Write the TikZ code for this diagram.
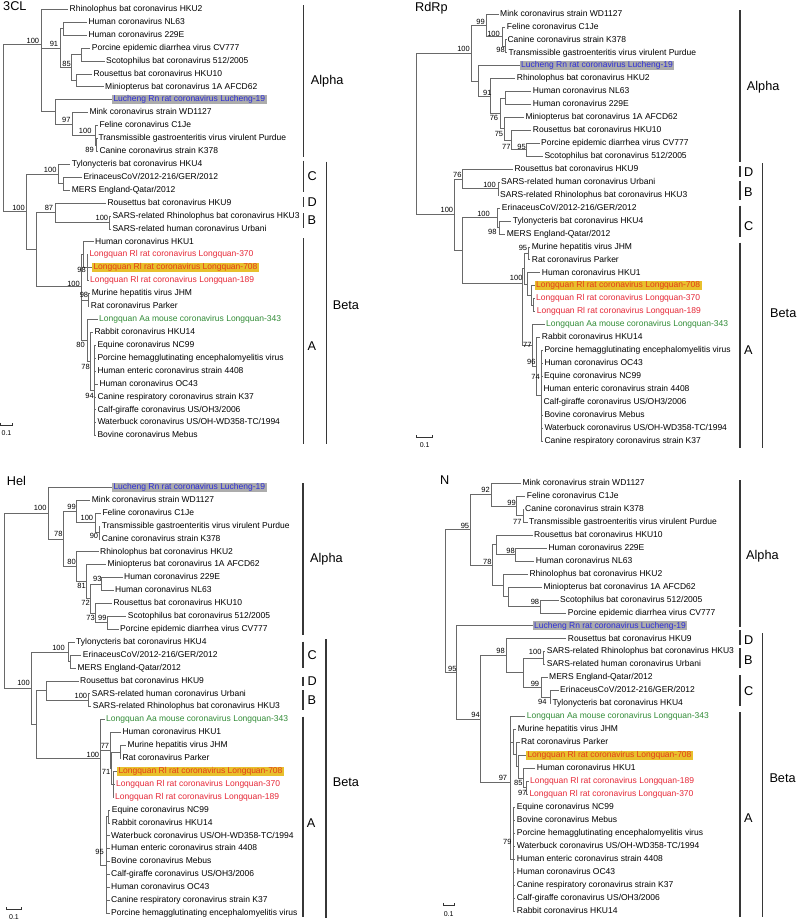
\documentclass[tikz,border=0pt]{standalone}
\usepackage{fontspec}
\setmainfont{Liberation Sans}
\usetikzlibrary{calc}
\definecolor{tbl}{RGB}{45,45,215}
\definecolor{tgr}{RGB}{50,140,55}
\definecolor{trd}{RGB}{230,40,55}
\definecolor{thl}{RGB}{232,192,45}
\definecolor{tor}{RGB}{228,60,25}
\definecolor{tgb}{RGB}{172,172,172}
\definecolor{brc}{RGB}{105,105,105}
\definecolor{barc}{RGB}{55,55,55}
\newcommand\tlf[5][]{\node[leaf,#1] (#2) at ({#3-1.5},{\treeyo+#4*\treedy}) {#5};}
\newcommand\tnd[3]{\coordinate (#1) at ({#2},{\treeyo+#3*\treedy});}
\newcommand\ted[2]{\draw[br] (#1) |- (#2);}
\newcommand\tel[2]{\draw[br] (#1) |- (#2.west);}
\newcommand\cladebar[4]{\coordinate (#1u) at (#2,#3); \coordinate (#1d) at (#2,#4); \draw[bar] (#1u) -- (#1d);}
\newcommand\mkscale[6]{\coordinate (#1l) at (#2,#4); \coordinate (#1r) at (#3,#4);
  \draw[sc] ($(#1l)+(0,-2.2)$) -- (#1l) -- (#1r) -- ($(#1r)+(0,-2.2)$);
  \node[sct] (#1t) at (#5,#6) {0.1};}
\begin{document}
\begin{tikzpicture}[x=1pt,y=-1pt,
 leaf/.style={anchor=west,inner xsep=1.5pt,inner ysep=0.6pt,font=\fontsize{8.5}{10}\selectfont,text height=6.2pt,text depth=1.8pt},
 lred/.style={text=trd}, lgrn/.style={text=tgr}, lblu/.style={text=tbl,fill=tgb}, lhl/.style={text=tor,fill=thl},
 br/.style={draw=brc,line width=0.8pt},
 bs/.style={anchor=east,inner sep=0pt,font=\fontsize{7.5}{9}\selectfont},
 bar/.style={draw=barc,line width=1.1pt},
 clab/.style={anchor=west,inner sep=0pt,font=\fontsize{12.7}{14}\selectfont},
 ttl/.style={anchor=base west,inner sep=0pt,font=\fontsize{12.7}{14}\selectfont},
 sc/.style={draw=black!80,line width=0.6pt},
 sct/.style={inner sep=0pt,font=\fontsize{7}{8}\selectfont}]
\path[fill=white,use as bounding box] (0,0) rectangle (796,921);

% ================= 3CL =================
\node[ttl] (t1) at (3,10) {3CL};
\def\treeyo{9.3}\def\treedy{12.92}
\tlf{a0}{69.5}{0}{Rhinolophus bat coronavirus HKU2}
\tlf{a1}{88.3}{1}{Human coronavirus NL63}
\tlf{a2}{88.3}{2}{Human coronavirus 229E}
\tlf{a3}{91.7}{3}{Porcine epidemic diarrhea virus CV777}
\tlf{a4}{106}{4}{Scotophilus bat coronavirus 512/2005}
\tlf{a5}{93.3}{5}{Rousettus bat coronavirus HKU10}
\tlf{a6}{105}{6}{Miniopterus bat coronavirus 1A AFCD62}
\tlf[lblu]{a7}{113.3}{7}{Lucheng Rn rat coronavirus Lucheng-19}
\tlf{a8}{89.3}{8}{Mink coronavirus strain WD1127}
\tlf{a9}{99.3}{9}{Feline coronavirus C1Je}
\tlf{a10}{98.3}{10}{Transmissible gastroenteritis virus virulent Purdue}
\tlf{a11}{99.3}{11}{Canine coronavirus strain K378}
\tlf{a12}{71.7}{12}{Tylonycteris bat coronavirus HKU4}
\tlf{a13}{83.3}{13}{ErinaceusCoV/2012-216/GER/2012}
\tlf{a14}{71.7}{14}{MERS England-Qatar/2012}
\tlf{a15}{107.3}{15}{Rousettus bat coronavirus HKU9}
\tlf{a16}{112.3}{16}{SARS-related Rhinolophus bat coronavirus HKU3}
\tlf{a17}{112.3}{17}{SARS-related human coronavirus Urbani}
\tlf{a18}{95}{18}{Human coronavirus HKU1}
\tlf[lred]{a19}{89.3}{19}{Longquan Rl rat coronavirus Longquan-370}
\tlf[lhl]{a20}{93.3}{20}{Longquan Rl rat coronavirus Longquan-708}
\tlf[lred]{a21}{90}{21}{Longquan Rl rat coronavirus Longquan-189}
\tlf{a22}{91.7}{22}{Murine hepatitis virus JHM}
\tlf{a23}{90.7}{23}{Rat coronavirus Parker}
\tlf[lgrn]{a24}{99}{24}{Longquan Aa mouse coronavirus Longquan-343}
\tlf{a25}{94.3}{25}{Rabbit coronavirus HKU14}
\tlf{a26}{97.3}{26}{Equine coronavirus NC99}
\tlf{a27}{97.3}{27}{Porcine hemagglutinating encephalomyelitis virus}
\tlf{a28}{97.3}{28}{Human enteric coronavirus strain 4408}
\tlf{a29}{99.3}{29}{Human coronavirus OC43}
\tlf{a30}{97.3}{30}{Canine respiratory coronavirus strain K37}
\tlf{a31}{97.3}{31}{Calf-giraffe coronavirus US/OH3/2006}
\tlf{a32}{97.3}{32}{Waterbuck coronavirus US/OH-WD358-TC/1994}
\tlf{a33}{97.3}{33}{Bovine coronavirus Mebus}
\tnd{anl}{63.3}{1.5} \tel{anl}{a1}\tel{anl}{a2}
\tnd{acv}{81.7}{3.5} \tel{acv}{a3}\tel{acv}{a4}
\tnd{ahk}{76}{5.5} \tel{ahk}{a5}\tel{ahk}{a6}
\tnd{a85}{71.7}{4.5} \ted{a85}{acv}\ted{a85}{ahk}
\tnd{a91}{60}{3} \ted{a91}{anl}\ted{a91}{a85}
\tnd{a89}{96.7}{10.5} \tel{a89}{a10}\tel{a89}{a11}
\tnd{a100b}{95}{9.75} \tel{a100b}{a9}\ted{a100b}{a89}
\tnd{a97}{72.7}{8.875} \tel{a97}{a8}\ted{a97}{a100b}
\tnd{aluc}{55}{7.9375} \tel{aluc}{a7}\ted{aluc}{a97}
\tnd{aal}{41.3}{2.7} \tel{aal}{a0}\ted{aal}{a91}\ted{aal}{aluc}
\tnd{aem}{63.3}{13.5} \tel{aem}{a13}\tel{aem}{a14}
\tnd{a100C}{58.3}{12.75} \tel{a100C}{a12}\ted{a100C}{aem}
\tnd{a100B}{109.3}{16.5} \tel{a100B}{a16}\tel{a100B}{a17}
\tnd{a87}{55}{15.75} \tel{a87}{a15}\ted{a87}{a100B}
\tnd{aLQ}{87.3}{20} \tel{aLQ}{a19}\tel{aLQ}{a20}\tel{aLQ}{a21}
\tnd{ahk1}{83.3}{19} \tel{ahk1}{a18}\ted{ahk1}{aLQ}
\tnd{ajp}{88.3}{22.5} \tel{ajp}{a22}\tel{ajp}{a23}
\tnd{a94}{94.5}{29.5} \foreach \i in {26,...,33}{\tel{a94}{a\i}}
\tnd{a78}{90}{27.25} \tel{a78}{a25}\ted{a78}{a94}
\tnd{a80}{87.3}{25.625} \tel{a80}{a24}\ted{a80}{a78}
\tnd{a100A}{81.7}{21.47} \ted{a100A}{ahk1}\ted{a100A}{ajp}\ted{a100A}{a80}
\tnd{adb}{36}{18.61} \ted{adb}{a87}\ted{adb}{a100A}
\tnd{abeta}{26.7}{15.68} \ted{abeta}{a100C}\ted{abeta}{adb}
\tnd{aroot}{3}{9.19} \ted{aroot}{aal}\ted{aroot}{abeta}
\node[bs] (ab1) at (39.3,40.5) {100};
\node[bs] (ab2) at (58.3,43.7) {91};
\node[bs] (ab3) at (71,64) {85};
\node[bs] (ab4) at (70.7,119.7) {97};
\node[bs] (ab5) at (91.7,131.3) {100};
\node[bs] (ab6) at (94,149.7) {89};
\node[bs] (ab7) at (56.7,170.3) {100};
\node[bs] (ab8) at (25,208) {100};
\node[bs] (ab9) at (53.3,208) {87};
\node[bs] (ab10) at (108.3,218) {100};
\node[bs] (ab11) at (86,270) {98};
\node[bs] (ab12) at (80,283.8) {100};
\node[bs] (ab13) at (88.3,295.3) {98};
\node[bs] (ab14) at (85,345) {80};
\node[bs] (ab15) at (90,366.7) {78};
\node[bs] (ab16) at (94,395.7) {94};
\cladebar{pa1}{303.3}{5}{156.7}
\cladebar{pa2}{303.3}{160.7}{192}
\cladebar{pa3}{303.3}{197}{207}
\cladebar{pa4}{303.3}{213}{228}
\cladebar{pa5}{303.3}{238.3}{444}
\cladebar{pa6}{326.7}{161.7}{444.3}
\node[clab] (la1) at (310.7,81.7) {Alpha};
\node[clab] (la2) at (307.3,176) {C};
\node[clab] (la3) at (307.3,202) {D};
\node[clab] (la4) at (307.3,220.5) {B};
\node[clab] (la5) at (307.3,346.5) {A};
\node[clab] (la6) at (332.7,305) {Beta};
\mkscale{sa}{0.5}{12.5}{425}{6.5}{433.5}

% ================= RdRp =================
\node[ttl] (t2) at (415,11) {RdRp};
\def\treeyo{14}\def\treedy{12.94}
\tlf{b0}{500}{0}{Mink coronavirus strain WD1127}
\tlf{b1}{506.7}{1}{Feline coronavirus C1Je}
\tlf{b2}{507.3}{2}{Canine coronavirus strain K378}
\tlf{b3}{508.3}{3}{Transmissible gastroenteritis virus virulent Purdue}
\tlf[lblu]{b4}{521}{4}{Lucheng Rn rat coronavirus Lucheng-19}
\tlf{b5}{516.7}{5}{Rhinolophus bat coronavirus HKU2}
\tlf{b6}{532.7}{6}{Human coronavirus NL63}
\tlf{b7}{532.7}{7}{Human coronavirus 229E}
\tlf{b8}{525.3}{8}{Miniopterus bat coronavirus 1A AFCD62}
\tlf{b9}{532.7}{9}{Rousettus bat coronavirus HKU10}
\tlf{b10}{541}{10}{Porcine epidemic diarrhea virus CV777}
\tlf{b11}{544.3}{11}{Scotophilus bat coronavirus 512/2005}
\tlf{b12}{514.3}{12}{Rousettus bat coronavirus HKU9}
\tlf{b13}{501}{13}{SARS-related human coronavirus Urbani}
\tlf{b14}{500}{14}{SARS-related Rhinolophus bat coronavirus HKU3}
\tlf{b15}{501.7}{15}{ErinaceusCoV/2012-216/GER/2012}
\tlf{b16}{512.7}{16}{Tylonycteris bat coronavirus HKU4}
\tlf{b17}{506.7}{17}{MERS England-Qatar/2012}
\tlf{b18}{531.7}{18}{Murine hepatitis virus JHM}
\tlf{b19}{531.7}{19}{Rat coronavirus Parker}
\tlf{b20}{541.7}{20}{Human coronavirus HKU1}
\tlf[lhl]{b21}{536}{21}{Longquan Rl rat coronavirus Longquan-708}
\tlf[lred]{b22}{536}{22}{Longquan Rl rat coronavirus Longquan-370}
\tlf[lred]{b23}{536.7}{23}{Longquan Rl rat coronavirus Longquan-189}
\tlf[lgrn]{b24}{546}{24}{Longquan Aa mouse coronavirus Longquan-343}
\tlf{b25}{541.7}{25}{Rabbit coronavirus HKU14}
\tlf{b26}{544.3}{26}{Porcine hemagglutinating encephalomyelitis virus}
\tlf{b27}{544.3}{27}{Human coronavirus OC43}
\tlf{b28}{544}{28}{Equine coronavirus NC99}
\tlf{b29}{543.3}{29}{Human enteric coronavirus strain 4408}
\tlf{b30}{543.3}{30}{Calf-giraffe coronavirus US/OH3/2006}
\tlf{b31}{544.3}{31}{Bovine coronavirus Mebus}
\tlf{b32}{544.3}{32}{Waterbuck coronavirus US/OH-WD358-TC/1994}
\tlf{b33}{544.3}{33}{Canine respiratory coronavirus strain K37}
\tnd{b98}{505.5}{2.5} \tel{b98}{b2}\tel{b98}{b3}
\tnd{b100c}{502}{1.75} \tel{b100c}{b1}\ted{b100c}{b98}
\tnd{b99}{486}{0.875} \tel{b99}{b0}\ted{b99}{b100c}
\tnd{bnl}{505}{6.5} \tel{bnl}{b6}\tel{bnl}{b7}
\tnd{b95}{526.7}{10.5} \tel{b95}{b10}\tel{b95}{b11}
\tnd{b77}{511.7}{9.75} \tel{b77}{b9}\ted{b77}{b95}
\tnd{b75}{504.3}{8.875} \tel{b75}{b8}\ted{b75}{b77}
\tnd{b76}{500}{7.6875} \ted{b76}{bnl}\ted{b76}{b75}
\tnd{b91}{490.7}{6.34} \tel{b91}{b5}\ted{b91}{b76}
\tnd{bluc}{478.3}{5.17} \tel{bluc}{b4}\ted{bluc}{b91}
\tnd{bal}{471.7}{3.02} \ted{bal}{b99}\ted{bal}{bluc}
\tnd{b100B}{498.3}{13.5} \tel{b100B}{b13}\tel{b100B}{b14}
\tnd{b76b}{462.7}{12.75} \tel{b76b}{b12}\ted{b76b}{b100B}
\tnd{b98C}{499}{16.5} \tel{b98C}{b16}\tel{b98C}{b17}
\tnd{b100C}{497}{15.75} \tel{b100C}{b15}\ted{b100C}{b98C}
\tnd{b95j}{528.3}{18.5} \tel{b95j}{b18}\tel{b95j}{b19}
\tnd{blq2}{533.3}{22.5} \tel{blq2}{b22}\tel{blq2}{b23}
\tnd{blq}{531.7}{21.75} \tel{blq}{b21}\ted{blq}{blq2}
\tnd{bhk1}{527.3}{20.875} \tel{bhk1}{b20}\ted{bhk1}{blq}
\tnd{bx}{524}{19.69} \ted{bx}{b95j}\ted{bx}{bhk1}
\tnd{b74}{541.3}{29.5} \foreach \i in {26,...,33}{\tel{b74}{b\i}}
\tnd{b96}{536.7}{27.25} \tel{b96}{b25}\ted{b96}{b74}
\tnd{b77A}{532.7}{25.625} \tel{b77A}{b24}\ted{b77A}{b96}
\tnd{b100A}{522.7}{20.81} \ted{b100A}{bx}\ted{b100A}{b77A}
\tnd{bcA}{462.7}{18.28} \ted{bcA}{b100C}\ted{bcA}{b100A}
\tnd{bbeta}{454}{15.5} \ted{bbeta}{b76b}\ted{bbeta}{bcA}
\tnd{broot}{416}{9} \ted{broot}{bal}\ted{broot}{bbeta}
\node[bs] (bb1) at (485,21.7) {99};
\node[bs] (bb2) at (500,33.7) {100};
\node[bs] (bb3) at (505,50.3) {98};
\node[bs] (bb4) at (470,48.7) {100};
\node[bs] (bb5) at (491.7,92.7) {91};
\node[bs] (bb6) at (498.3,118.3) {76};
\node[bs] (bb7) at (503.3,134.3) {75};
\node[bs] (bb8) at (510.7,146.7) {77};
\node[bs] (bb9) at (526,146.7) {95};
\node[bs] (bb10) at (461.7,175) {76};
\node[bs] (bb11) at (496,185) {100};
\node[bs] (bb12) at (453.3,210.3) {100};
\node[bs] (bb13) at (490,214) {100};
\node[bs] (bb14) at (496.7,232.3) {98};
\node[bs] (bb15) at (527.3,248) {95};
\node[bs] (bb16) at (522.7,278) {100};
\node[bs] (bb17) at (531.7,345) {77};
\node[bs] (bb18) at (535.7,361.7) {96};
\node[bs] (bb19) at (540,377) {74};
\cladebar{pb1}{740}{10}{161.7}
\cladebar{pb2}{740}{166}{176.7}
\cladebar{pb3}{740}{181}{200}
\cladebar{pb4}{740}{205.7}{236.7}
\cladebar{pb5}{740}{242.7}{447.7}
\cladebar{pb6}{762.7}{163.3}{448.3}
\node[clab] (lb1) at (746.7,87.3) {Alpha};
\node[clab] (lb2) at (744,171.7) {D};
\node[clab] (lb3) at (744,191.7) {B};
\node[clab] (lb4) at (744,226) {C};
\node[clab] (lb5) at (744,350) {A};
\node[clab] (lb6) at (770,313.3) {Beta};
\mkscale{sb}{416.7}{432.7}{437.3}{424.7}{445.5}

% ================= Hel =================
\node[ttl] (t3) at (6.7,485) {Hel};
\def\treeyo{487.3}\def\treedy{12.91}
\tlf[lblu]{c0}{113.3}{0}{Lucheng Rn rat coronavirus Lucheng-19}
\tlf{c1}{91.7}{1}{Mink coronavirus strain WD1127}
\tlf{c2}{102.3}{2}{Feline coronavirus C1Je}
\tlf{c3}{101.7}{3}{Transmissible gastroenteritis virus virulent Purdue}
\tlf{c4}{101.7}{4}{Canine coronavirus strain K378}
\tlf{c5}{100}{5}{Rhinolophus bat coronavirus HKU2}
\tlf{c6}{107.3}{6}{Miniopterus bat coronavirus 1A AFCD62}
\tlf{c7}{124}{7}{Human coronavirus 229E}
\tlf{c8}{115}{8}{Human coronavirus NL63}
\tlf{c9}{113.3}{9}{Rousettus bat coronavirus HKU10}
\tlf{c10}{127.7}{10}{Scotophilus bat coronavirus 512/2005}
\tlf{c11}{120}{11}{Porcine epidemic diarrhea virus CV777}
\tlf{c12}{76}{12}{Tylonycteris bat coronavirus HKU4}
\tlf{c13}{82.7}{13}{ErinaceusCoV/2012-216/GER/2012}
\tlf{c14}{77.3}{14}{MERS England-Qatar/2012}
\tlf{c15}{80}{15}{Rousettus bat coronavirus HKU9}
\tlf{c16}{91.7}{16}{SARS-related human coronavirus Urbani}
\tlf{c17}{92.7}{17}{SARS-related Rhinolophus bat coronavirus HKU3}
\tlf[lgrn]{c18}{106}{18}{Longquan Aa mouse coronavirus Longquan-343}
\tlf{c19}{122.3}{19}{Human coronavirus HKU1}
\tlf{c20}{127.3}{20}{Murine hepatitis virus JHM}
\tlf{c21}{122.3}{21}{Rat coronavirus Parker}
\tlf[lhl]{c22}{118.3}{22}{Longquan Rl rat coronavirus Longquan-708}
\tlf[lred]{c23}{116}{23}{Longquan Rl rat coronavirus Longquan-370}
\tlf[lred]{c24}{115}{24}{Longquan Rl rat coronavirus Longquan-189}
\tlf{c25}{111.7}{25}{Equine coronavirus NC99}
\tlf{c26}{111.7}{26}{Rabbit coronavirus HKU14}
\tlf{c27}{111}{27}{Waterbuck coronavirus US/OH-WD358-TC/1994}
\tlf{c28}{111}{28}{Human enteric coronavirus strain 4408}
\tlf{c29}{111}{29}{Bovine coronavirus Mebus}
\tlf{c30}{111}{30}{Calf-giraffe coronavirus US/OH3/2006}
\tlf{c31}{111}{31}{Human coronavirus OC43}
\tlf{c32}{111}{32}{Canine respiratory coronavirus strain K37}
\tlf{c33}{111}{33}{Porcine hemagglutinating encephalomyelitis virus}
\tnd{c90}{99}{3.5} \tel{c90}{c3}\tel{c90}{c4}
\tnd{c100}{95}{2.75} \tel{c100}{c2}\ted{c100}{c90}
\tnd{c99}{76.7}{1.875} \tel{c99}{c1}\ted{c99}{c100}
\tnd{c93}{101.7}{7.5} \tel{c93}{c7}\tel{c93}{c8}
\tnd{c99b}{107.3}{10.5} \tel{c99b}{c10}\tel{c99b}{c11}
\tnd{c73}{95.7}{9.75} \tel{c73}{c9}\ted{c73}{c99b}
\tnd{c72}{90.7}{8.625} \ted{c72}{c93}\ted{c72}{c73}
\tnd{c81}{86.7}{7.31} \tel{c81}{c6}\ted{c81}{c72}
\tnd{c80}{76.7}{6.16} \tel{c80}{c5}\ted{c80}{c81}
\tnd{c78}{63.3}{4.02} \ted{c78}{c99}\ted{c78}{c80}
\tnd{cal}{48.3}{2.01} \tel{cal}{c0}\ted{cal}{c78}
\tnd{cem}{70.7}{13.5} \tel{cem}{c13}\tel{cem}{c14}
\tnd{c100C}{68.3}{12.75} \tel{c100C}{c12}\ted{c100C}{cem}
\tnd{c100B}{88.3}{16.5} \tel{c100B}{c16}\tel{c100B}{c17}
\tnd{cdb}{46.7}{15.75} \tel{cdb}{c15}\ted{cdb}{c100B}
\tnd{cjp}{120}{20.5} \tel{cjp}{c20}\tel{cjp}{c21}
\tnd{clq}{113}{23} \tel{clq}{c22}\tel{clq}{c23}\tel{clq}{c24}
\tnd{c71}{111.5}{21.75} \ted{c71}{cjp}\ted{c71}{clq}
\tnd{c77}{110}{20.375} \tel{c77}{c19}\ted{c77}{c71}
\tnd{cnr}{108.3}{25.5} \tel{cnr}{c25}\tel{cnr}{c26}
\tnd{c95}{106}{29.25} \ted{c95}{cnr}\foreach \i in {27,...,33}{\tel{c95}{c\i}}
\tnd{c100A}{100}{20.99} \tel{c100A}{c18}\ted{c100A}{c77}\ted{c100A}{c95}
\tnd{cda}{36.7}{18.37} \ted{cda}{cdb}\ted{cda}{c100A}
\tnd{cbeta}{31.7}{15.56} \ted{cbeta}{c100C}\ted{cbeta}{cda}
\tnd{croot}{4}{9} \ted{croot}{cal}\ted{croot}{cbeta}
\node[bs] (cb1) at (46.7,508) {100};
\node[bs] (cb2) at (76,506.7) {99};
\node[bs] (cb3) at (93.3,518) {100};
\node[bs] (cb4) at (62.7,534.3) {78};
\node[bs] (cb5) at (98.3,535.7) {90};
\node[bs] (cb6) at (76,562.3) {80};
\node[bs] (cb7) at (101.7,579) {93};
\node[bs] (cb8) at (86,585.7) {81};
\node[bs] (cb9) at (90,603.3) {72};
\node[bs] (cb10) at (95,617.7) {73};
\node[bs] (cb11) at (106.7,617.7) {99};
\node[bs] (cb12) at (65,648.3) {100};
\node[bs] (cb13) at (30,683) {100};
\node[bs] (cb14) at (87.3,696) {100};
\node[bs] (cb15) at (99.3,755) {100};
\node[bs] (cb16) at (109.3,746) {77};
\node[bs] (cb17) at (110.5,772.3) {71};
\node[bs] (cb18) at (104,851.7) {95};
\cladebar{pc1}{303}{483.3}{635}
\cladebar{pc2}{303}{641.7}{668}
\cladebar{pc3}{303}{676.7}{686}
\cladebar{pc4}{303}{690}{710}
\cladebar{pc5}{303}{716.7}{916.7}
\cladebar{pc6}{326}{639}{918.3}
\node[clab] (lc1) at (310,559.5) {Alpha};
\node[clab] (lc2) at (307.3,655) {C};
\node[clab] (lc3) at (307.3,681) {D};
\node[clab] (lc4) at (307.3,700) {B};
\node[clab] (lc5) at (306.7,823.3) {A};
\node[clab] (lc6) at (332.7,782) {Beta};
\mkscale{scc}{6.7}{21.7}{909.3}{14}{916.7}

% ================= N =================
\node[ttl] (t4) at (440,484.5) {N};
\def\treeyo{483.3}\def\treedy{12.96}
\tlf{d0}{522.3}{0}{Mink coronavirus strain WD1127}
\tlf{d1}{526.7}{1}{Feline coronavirus C1Je}
\tlf{d2}{525}{2}{Canine coronavirus strain K378}
\tlf{d3}{529}{3}{Transmissible gastroenteritis virus virulent Purdue}
\tlf{d4}{534}{4}{Rousettus bat coronavirus HKU10}
\tlf{d5}{548.3}{5}{Human coronavirus 229E}
\tlf{d6}{535.7}{6}{Human coronavirus NL63}
\tlf{d7}{529.3}{7}{Rhinolophus bat coronavirus HKU2}
\tlf{d8}{543.3}{8}{Miniopterus bat coronavirus 1A AFCD62}
\tlf{d9}{560}{9}{Scotophilus bat coronavirus 512/2005}
\tlf{d10}{567.7}{10}{Porcine epidemic diarrhea virus CV777}
\tlf[lblu]{d11}{534}{11}{Lucheng Rn rat coronavirus Lucheng-19}
\tlf{d12}{567.7}{12}{Rousettus bat coronavirus HKU9}
\tlf{d13}{546.7}{13}{SARS-related Rhinolophus bat coronavirus HKU3}
\tlf{d14}{546.7}{14}{SARS-related human coronavirus Urbani}
\tlf{d15}{549}{15}{MERS England-Qatar/2012}
\tlf{d16}{560}{16}{ErinaceusCoV/2012-216/GER/2012}
\tlf{d17}{552.3}{17}{Tylonycteris bat coronavirus HKU4}
\tlf[lgrn]{d18}{526.7}{18}{Longquan Aa mouse coronavirus Longquan-343}
\tlf{d19}{517.7}{19}{Murine hepatitis virus JHM}
\tlf{d20}{521}{20}{Rat coronavirus Parker}
\tlf[lhl]{d21}{527.3}{21}{Longquan Rl rat coronavirus Longquan-708}
\tlf{d22}{536.7}{22}{Human coronavirus HKU1}
\tlf[lred]{d23}{530}{23}{Longquan Rl rat coronavirus Longquan-189}
\tlf[lred]{d24}{529.3}{24}{Longquan Rl rat coronavirus Longquan-370}
\tlf{d25}{516.7}{25}{Equine coronavirus NC99}
\tlf{d26}{516.7}{26}{Bovine coronavirus Mebus}
\tlf{d27}{516.7}{27}{Porcine hemagglutinating encephalomyelitis virus}
\tlf{d28}{516.7}{28}{Waterbuck coronavirus US/OH-WD358-TC/1994}
\tlf{d29}{516.7}{29}{Human enteric coronavirus strain 4408}
\tlf{d30}{516.7}{30}{Human coronavirus OC43}
\tlf{d31}{516.7}{31}{Canine respiratory coronavirus strain K37}
\tlf{d32}{516.7}{32}{Calf-giraffe coronavirus US/OH3/2006}
\tlf{d33}{516.7}{33}{Rabbit coronavirus HKU14}
\tnd{d77}{523.3}{2.5} \tel{d77}{d2}\tel{d77}{d3}
\tnd{d99}{516.7}{1.75} \tel{d99}{d1}\ted{d99}{d77}
\tnd{d92}{491}{0.875} \tel{d92}{d0}\ted{d92}{d99}
\tnd{d98}{515.7}{5.5} \tel{d98}{d5}\tel{d98}{d6}
\tnd{dhk}{496}{4.75} \tel{dhk}{d4}\ted{dhk}{d98}
\tnd{d98b}{540.7}{9.5} \tel{d98b}{d9}\tel{d98b}{d10}
\tnd{dmp}{508.3}{8.75} \tel{dmp}{d8}\ted{dmp}{d98b}
\tnd{drm}{503.3}{7.875} \tel{drm}{d7}\ted{drm}{dmp}
\tnd{d78}{492.7}{6.31} \ted{d78}{dhk}\ted{d78}{drm}
\tnd{dal}{470}{3.59} \ted{dal}{d92}\ted{dal}{d78}
\tnd{d100B}{543.3}{13.5} \tel{d100B}{d13}\tel{d100B}{d14}
\tnd{d94C}{550}{16.5} \tel{d94C}{d16}\tel{d94C}{d17}
\tnd{d99C}{541.7}{15.75} \tel{d99C}{d15}\ted{d99C}{d94C}
\tnd{dbc}{523.3}{14.625} \ted{dbc}{d100B}\ted{dbc}{d99C}
\tnd{d98c}{506.7}{13.31} \tel{d98c}{d12}\ted{d98c}{dbc}
\tnd{d97b}{526.7}{23.5} \tel{d97b}{d23}\tel{d97b}{d24}
\tnd{d85}{523.3}{22.75} \tel{d85}{d22}\ted{d85}{d97b}
\tnd{d708}{518.3}{21.875} \tel{d708}{d21}\ted{d708}{d85}
\tnd{dpk}{516}{20.94} \tel{dpk}{d20}\ted{dpk}{d708}
\tnd{da1}{513.3}{19.97} \tel{da1}{d19}\ted{da1}{dpk}
\tnd{d79}{513.3}{29} \foreach \i in {25,...,33}{\tel{d79}{d\i}}
\tnd{d97}{510}{23.1} \tel{d97}{d18}\ted{d97}{da1}\ted{d97}{d79}
\tnd{d94}{480.7}{18.2} \ted{d94}{d98c}\ted{d94}{d97}
\tnd{dlb}{456.7}{14.6} \tel{dlb}{d11}\ted{dlb}{d94}
\tnd{droot}{445}{9} \ted{droot}{dal}\ted{droot}{dlb}
\node[bs] (db1) at (490,490) {92};
\node[bs] (db2) at (516,502.7) {99};
\node[bs] (db3) at (521.7,521.7) {77};
\node[bs] (db4) at (469.3,526) {95};
\node[bs] (db5) at (515,551) {98};
\node[bs] (db6) at (491.7,561.7) {78};
\node[bs] (db7) at (539.3,601.7) {98};
\node[bs] (db8) at (505,651) {98};
\node[bs] (db9) at (541.7,652) {100};
\node[bs] (db10) at (456.7,669) {95};
\node[bs] (db11) at (539.3,684) {99};
\node[bs] (db12) at (546.7,701.7) {94};
\node[bs] (db13) at (480,715) {94};
\node[bs] (db14) at (507.3,778.3) {97};
\node[bs] (db15) at (522.7,782.7) {85};
\node[bs] (db16) at (526.7,793.3) {97};
\node[bs] (db17) at (511.7,841.7) {79};
\cladebar{pd1}{740}{480}{626.7}
\cladebar{pd2}{740}{630}{645}
\cladebar{pd3}{740}{648.3}{668.3}
\cladebar{pd4}{740}{675}{706}
\cladebar{pd5}{740}{712.3}{916.7}
\cladebar{pd6}{762.7}{633.3}{917.3}
\node[clab] (ld1) at (746,556) {Alpha};
\node[clab] (ld2) at (744,640) {D};
\node[clab] (ld3) at (744,660) {B};
\node[clab] (ld4) at (744,691) {C};
\node[clab] (ld5) at (744,818.3) {A};
\node[clab] (ld6) at (769.3,778.3) {Beta};
\mkscale{sd}{443.3}{454}{905}{448.7}{914.3}
\end{tikzpicture}
\end{document}
